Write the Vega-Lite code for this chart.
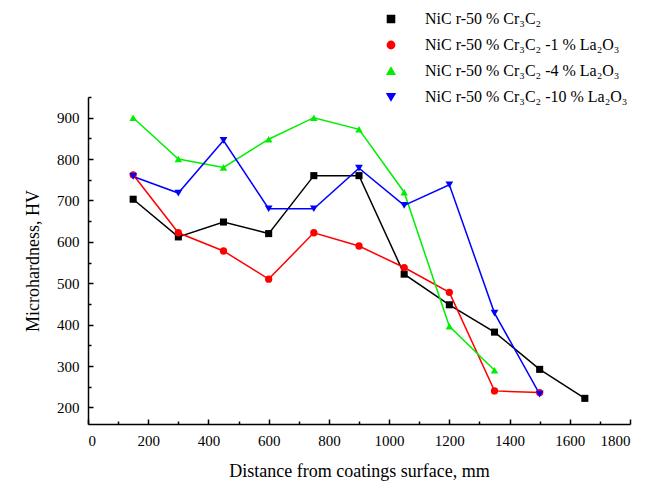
{
  "$schema": "https://vega.github.io/schema/vega-lite/v6.json",
  "width": 542,
  "height": 327,
  "autosize": "none",
  "padding": {"left": 88, "top": 97, "right": 42, "bottom": 66},
  "background": "white",
  "config": {
    "font": "Liberation Serif",
    "view": {"stroke": null},
    "axis": {"grid": false, "domainColor": "black", "domainWidth": 1.5, "tickColor": "black", "tickWidth": 1.5, "labelColor": "black", "titleColor": "black", "labelFont": "Liberation Serif", "titleFont": "Liberation Serif", "labelFontSize": 15, "titleFontSize": 18, "titleFontWeight": "normal"},
    "legend": {"labelFont": "Liberation Serif", "labelFontSize": 16, "labelColor": "black", "padding": 0}
  },
  "data": {"values": [
    {"series": "NiC r-50 % Cr₃C₂", "d": 150, "hv": 703},
    {"series": "NiC r-50 % Cr₃C₂", "d": 300, "hv": 612},
    {"series": "NiC r-50 % Cr₃C₂", "d": 450, "hv": 648},
    {"series": "NiC r-50 % Cr₃C₂", "d": 600, "hv": 620},
    {"series": "NiC r-50 % Cr₃C₂", "d": 750, "hv": 760},
    {"series": "NiC r-50 % Cr₃C₂", "d": 900, "hv": 760},
    {"series": "NiC r-50 % Cr₃C₂", "d": 1050, "hv": 522},
    {"series": "NiC r-50 % Cr₃C₂", "d": 1200, "hv": 448},
    {"series": "NiC r-50 % Cr₃C₂", "d": 1350, "hv": 382},
    {"series": "NiC r-50 % Cr₃C₂", "d": 1500, "hv": 292},
    {"series": "NiC r-50 % Cr₃C₂", "d": 1650, "hv": 222},
    {"series": "NiC r-50 % Cr₃C₂  -1 % La₂O₃", "d": 150, "hv": 762},
    {"series": "NiC r-50 % Cr₃C₂  -1 % La₂O₃", "d": 300, "hv": 622},
    {"series": "NiC r-50 % Cr₃C₂  -1 % La₂O₃", "d": 450, "hv": 578},
    {"series": "NiC r-50 % Cr₃C₂  -1 % La₂O₃", "d": 600, "hv": 510},
    {"series": "NiC r-50 % Cr₃C₂  -1 % La₂O₃", "d": 750, "hv": 622},
    {"series": "NiC r-50 % Cr₃C₂  -1 % La₂O₃", "d": 900, "hv": 590},
    {"series": "NiC r-50 % Cr₃C₂  -1 % La₂O₃", "d": 1050, "hv": 538},
    {"series": "NiC r-50 % Cr₃C₂  -1 % La₂O₃", "d": 1200, "hv": 478},
    {"series": "NiC r-50 % Cr₃C₂  -1 % La₂O₃", "d": 1350, "hv": 240},
    {"series": "NiC r-50 % Cr₃C₂  -1 % La₂O₃", "d": 1500, "hv": 236},
    {"series": "NiC r-50 % Cr₃C₂  -4 % La₂O₃", "d": 150, "hv": 900},
    {"series": "NiC r-50 % Cr₃C₂  -4 % La₂O₃", "d": 300, "hv": 800},
    {"series": "NiC r-50 % Cr₃C₂  -4 % La₂O₃", "d": 450, "hv": 780},
    {"series": "NiC r-50 % Cr₃C₂  -4 % La₂O₃", "d": 600, "hv": 848},
    {"series": "NiC r-50 % Cr₃C₂  -4 % La₂O₃", "d": 750, "hv": 900},
    {"series": "NiC r-50 % Cr₃C₂  -4 % La₂O₃", "d": 900, "hv": 872},
    {"series": "NiC r-50 % Cr₃C₂  -4 % La₂O₃", "d": 1050, "hv": 720},
    {"series": "NiC r-50 % Cr₃C₂  -4 % La₂O₃", "d": 1200, "hv": 396},
    {"series": "NiC r-50 % Cr₃C₂  -4 % La₂O₃", "d": 1350, "hv": 290},
    {"series": "NiC r-50 % Cr₃C₂  -10 % La₂O₃", "d": 150, "hv": 758},
    {"series": "NiC r-50 % Cr₃C₂  -10 % La₂O₃", "d": 300, "hv": 718},
    {"series": "NiC r-50 % Cr₃C₂  -10 % La₂O₃", "d": 450, "hv": 845},
    {"series": "NiC r-50 % Cr₃C₂  -10 % La₂O₃", "d": 600, "hv": 680},
    {"series": "NiC r-50 % Cr₃C₂  -10 % La₂O₃", "d": 750, "hv": 680},
    {"series": "NiC r-50 % Cr₃C₂  -10 % La₂O₃", "d": 900, "hv": 778},
    {"series": "NiC r-50 % Cr₃C₂  -10 % La₂O₃", "d": 1050, "hv": 688},
    {"series": "NiC r-50 % Cr₃C₂  -10 % La₂O₃", "d": 1200, "hv": 738},
    {"series": "NiC r-50 % Cr₃C₂  -10 % La₂O₃", "d": 1350, "hv": 428},
    {"series": "NiC r-50 % Cr₃C₂  -10 % La₂O₃", "d": 1500, "hv": 232}
  ]},
  "resolve": {"axis": {"x": "independent", "y": "independent"}},
  "layer": [
    {
      "mark": {"type": "line", "strokeWidth": 1.5},
      "encoding": {
        "x": {"field": "d", "type": "quantitative", "scale": {"domain": [0, 1800], "nice": false},
              "axis": {"orient": "bottom", "values": [0,200,400,600,800,1000,1200,1400,1600,1800], "format": "d", "tickSize": -5, "labelPadding": 14, "title": "Distance from coatings surface, mm", "titlePadding": 14}},
        "y": {"field": "hv", "type": "quantitative", "scale": {"domain": [160, 950], "nice": false, "zero": false},
              "axis": {"orient": "left", "values": [200,300,400,500,600,700,800,900], "format": "d", "tickSize": -5, "labelPadding": 14, "title": "Microhardness, HV", "titlePadding": 14}},
        "color": {"field": "series", "type": "nominal",
          "scale": {"domain": ["NiC r-50 % Cr₃C₂", "NiC r-50 % Cr₃C₂  -1 % La₂O₃", "NiC r-50 % Cr₃C₂  -4 % La₂O₃", "NiC r-50 % Cr₃C₂  -10 % La₂O₃"], "range": ["#000000", "#ff0000", "#00ee00", "#0000ff"]},
          "legend": {"orient": "none", "legendX": 295, "legendY": -86, "title": null, "symbolSize": 64, "labelOffset": 26, "rowPadding": 10, "labelLimit": 0,
            "encode": {"symbols": {"update": {
              "shape": {"value": {"expr": "['M-6.25,0H6.25M-0.875,-0.875H0.875V0.875H-0.875Z','M-6.25,0H6.25M-1,0A1,1,0,1,0,1,0A1,1,0,1,0,-1,0Z','M-6.25,0H6.25M0,-1.25L1.1,0.85L-1.1,0.85Z','M-6.25,0H6.25M0,1.25L1.1,-0.85L-1.1,-0.85Z'][datum.index]"}},
              "stroke": {"value": {"expr": "scale('color', datum.value)"}},
              "fill": {"value": {"expr": "scale('color', datum.value)"}},
              "strokeWidth": {"value": 1.5},
              "opacity": {"value": 1}
            }}}}}
      }
    },
    {
      "mark": {"type": "point", "filled": true, "opacity": 1},
      "encoding": {
        "x": {"field": "d", "type": "quantitative",
              "axis": {"orient": "bottom", "values": [100,300,500,700,900,1100,1300,1500,1700], "tickSize": -3, "labels": false, "domain": false, "title": null}},
        "y": {"field": "hv", "type": "quantitative",
              "axis": {"orient": "left", "values": [250,350,450,550,650,750,850,950], "tickSize": -3, "labels": false, "domain": false, "title": null}},
        "color": {"field": "series", "type": "nominal",
          "legend": {"orient": "none", "legendX": 295, "legendY": -86, "title": null, "symbolSize": 64, "labelOffset": 26, "rowPadding": 10, "labelLimit": 0,
            "encode": {"symbols": {"update": {
              "shape": {"value": {"expr": "['M-6.25,0H6.25M-0.875,-0.875H0.875V0.875H-0.875Z','M-6.25,0H6.25M-1,0A1,1,0,1,0,1,0A1,1,0,1,0,-1,0Z','M-6.25,0H6.25M0,-1.25L1.1,0.85L-1.1,0.85Z','M-6.25,0H6.25M0,1.25L1.1,-0.85L-1.1,-0.85Z'][datum.index]"}},
              "stroke": {"value": {"expr": "scale('color', datum.value)"}},
              "fill": {"value": {"expr": "scale('color', datum.value)"}},
              "strokeWidth": {"value": 1.5},
              "opacity": {"value": 1}
            }}}}},
        "shape": {"field": "series", "type": "nominal", "legend": null,
          "scale": {"domain": ["NiC r-50 % Cr₃C₂", "NiC r-50 % Cr₃C₂  -1 % La₂O₃", "NiC r-50 % Cr₃C₂  -4 % La₂O₃", "NiC r-50 % Cr₃C₂  -10 % La₂O₃"], "range": ["square", "circle", "triangle-up", "triangle-down"]}},
        "size": {"field": "series", "type": "nominal", "legend": null,
          "scale": {"domain": ["NiC r-50 % Cr₃C₂", "NiC r-50 % Cr₃C₂  -1 % La₂O₃", "NiC r-50 % Cr₃C₂  -4 % La₂O₃", "NiC r-50 % Cr₃C₂  -10 % La₂O₃"], "range": [50, 60, 85, 85]}}
      }
    }
  ]
}
